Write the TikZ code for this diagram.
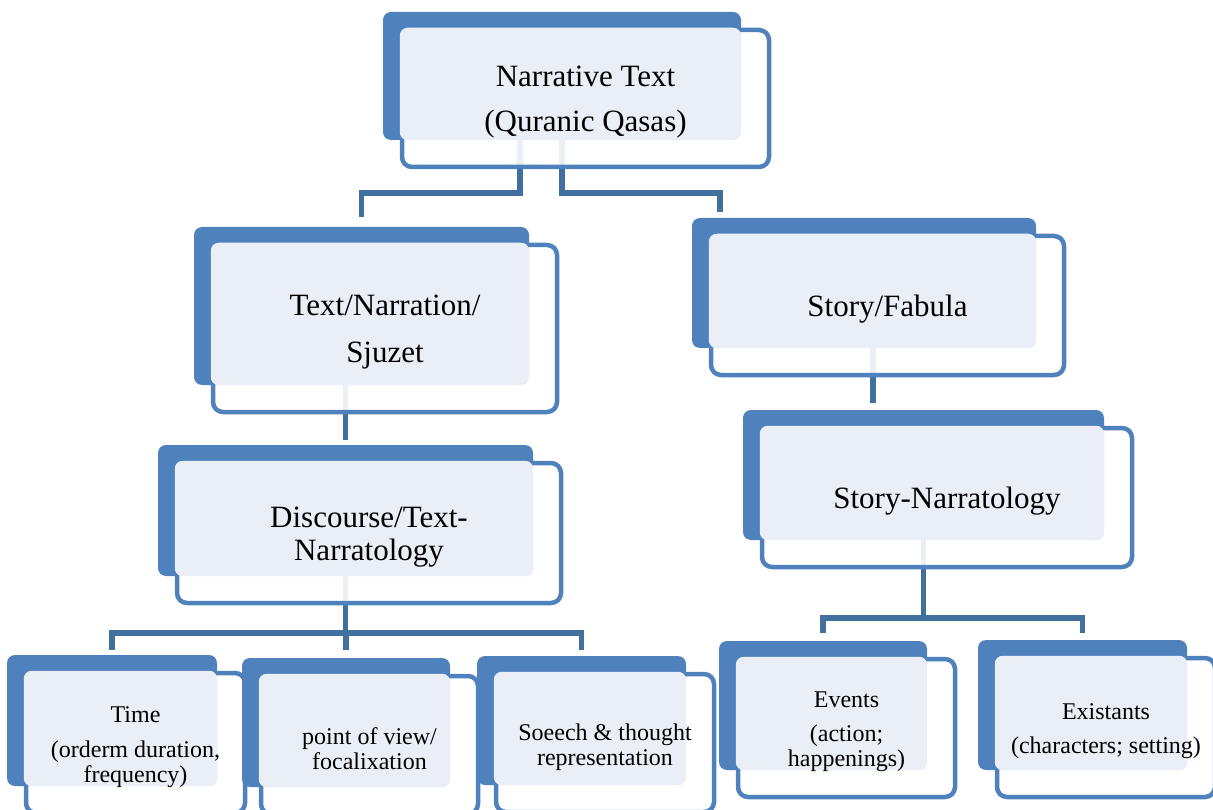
\documentclass[tikz,border=0pt]{standalone}
\usepackage{fontspec}
\setmainfont{Liberation Serif}
\usetikzlibrary{backgrounds}
\definecolor{tierblue}{HTML}{4F81BD}
\definecolor{tierlight}{HTML}{EAEFF7}
\definecolor{linkblue}{HTML}{41709F}

\begin{document}
\begin{tikzpicture}[x=1pt,y=-1pt,
  backbox/.style={fill=tierblue,rounded corners=8pt,inner sep=0pt},
  frontbox/.style={draw=tierblue,line width=4.5pt,fill=white,fill opacity=0.9,rounded corners=10pt,inner sep=0pt},
  overlap/.style={fill=tierlight,rounded corners=8pt},
  big/.style={font=\fontsize{31}{36}\selectfont},
  small/.style={font=\fontsize{24}{27}\selectfont},
  link/.style={draw=linkblue,line width=5.5pt}]
  \useasboundingbox (0,0) rectangle (1213,810);
  \foreach \n/\x/\y/\w/\h/\f/\t [evaluate=\w as \fw using \w+9, evaluate=\h as \fh using \h+9] in {
    narr/562/76/358/128/big/{Narrative Text\\[9pt](Quranic Qasas)},
    sjuz/361.5/306/335/158/big/{Text/Narration/\\[11pt]Sjuzet},
    fab/864/283/344/130/big/{Story/Fabula},
    disc/345.5/510.5/375/131/big/{Discourse/Text-\\[-3pt]Narratology},
    snar/923.5/475/361/130/big/{Story-Narratology},
    time/112/720.5/210/131/small/{Time\\[8pt](orderm duration,\\[-2pt]frequency)},
    pov/346/722.5/208/129/small/{point of view/\\[-2pt]focalixation},
    soe/581.5/720.5/209/129/small/{Soeech \& thought\\[-2pt]representation},
    evt/823/705.5/208/129/small/{Events\\[7pt](action;\\[-2pt]happenings)},
    exi/1082.5/705/209/130/small/{Existants\\[7pt](characters; setting)}}
  {
    \node[backbox,minimum width=\w pt,minimum height=\h pt] (\n-b) at (\x,\y) {};
    \node[frontbox,minimum width=\fw pt,minimum height=\fh pt] (\n) at ([shift={(23.5,22.5)}]\n-b.center) {};
    \fill[overlap] (\n.north west) rectangle (\n-b.south east);
    \node[\f,align=center] (\n-t) at ([yshift=-4pt]\n.center) {\t};
  }
  % connectors behind the boxes
  \begin{scope}[on background layer]
    \draw[link] ([xshift=-42pt]narr-b.south) -- ++(0,53) -| ([yshift=10pt]sjuz-b.north);
    \draw[link] (narr-b.south) -- ++(0,53) -| ([xshift=-144pt,yshift=6pt]fab-b.north);
    \draw[link] ([xshift=-16pt]sjuz-b.south) -- ([yshift=5pt]disc-b.north);
    \draw[link] ([xshift=9pt]fab-b.south) -- ([xshift=-50.5pt,yshift=7pt]snar-b.north);
    \draw[link] (disc-b.south) -- ++(0,57) coordinate (disc-j);
    \draw[link] (disc-j) -| ([yshift=5pt]time-b.north);
    \draw[link] (disc-j) -| ([yshift=8pt]pov-b.north);
    \draw[link] (disc-j) -| ([yshift=6pt]soe-b.north);
    \draw[link] (snar-b.south) -- ++(0,78) coordinate (snar-j);
    \draw[link] (snar-j) -| ([yshift=8pt]evt-b.north);
    \draw[link] (snar-j) -| ([yshift=7pt]exi-b.north);
  \end{scope}
\end{tikzpicture}
\end{document}
